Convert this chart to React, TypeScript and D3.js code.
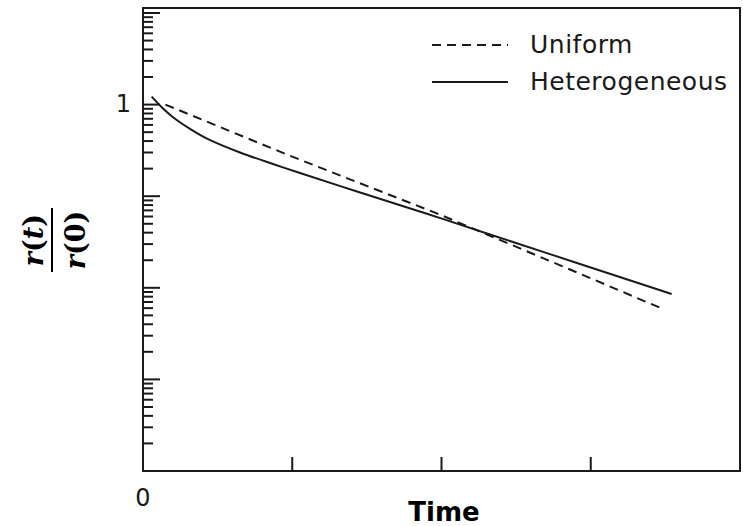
import * as d3 from "d3";

// Uniform (dashed) and heterogeneous (solid) decay
const uniformT = [0.15, 1.0, 2.0, 3.0, 3.47];
const uniformR = [1.0, 0.27, 0.062, 0.0127, 0.006];

const heteroT = [0.058, 0.134, 0.201, 0.315, 0.429, 0.65, 0.871, 1.052, 1.434, 1.876, 2.325, 2.928, 3.542];
const heteroR = [1.22, 0.906, 0.7285, 0.544, 0.4254, 0.3, 0.2246, 0.1792, 0.1125, 0.0664, 0.0382, 0.01819, 0.00855];

const xTicks = [1, 2, 3];
const legendItems = ["Uniform", "Heterogeneous"];

const W = 743;
const H = 526;
const box = { left: 143, right: 740, top: 8, bottom: 471 };
const ink = "#1a1a1a";
const sans = "'DejaVu Sans', sans-serif";

export default function App() {
  const x = d3.scaleLinear().domain([0, 4]).range([box.left, box.right]);
  const y = d3.scaleLog().domain([1e-4, 10]).range([box.bottom, 13]);

  const line = d3
    .line<[number, number]>()
    .x((d) => x(d[0]))
    .y((d) => y(d[1]));

  const uniformPath = line.curve(d3.curveLinear)(uniformT.map((t, i) => [t, uniformR[i]]));
  const heteroPath = line.curve(d3.curveCatmullRom.alpha(0.5))(heteroT.map((t, i) => [t, heteroR[i]]));

  const yTicks = y.ticks();
  const isMajor = (v: number) => Math.abs(Math.log10(v) - Math.round(Math.log10(v))) < 1e-6;

  return (
    <svg width={W} height={H} style={{ position: "absolute", left: 0, top: 0 }}>
      <rect width={W} height={H} fill="white" />

      {/* frame */}
      <rect
        x={box.left}
        y={box.top}
        width={box.right - box.left}
        height={box.bottom - box.top}
        fill="none"
        stroke={ink}
        strokeWidth={2}
      />

      {/* y ticks (log, inward) */}
      {yTicks.map((v, i) => (
        <line
          key={i}
          x1={box.left}
          x2={box.left + (isMajor(v) ? 17 : 10)}
          y1={y(v)}
          y2={y(v)}
          stroke={ink}
          strokeWidth={2}
        />
      ))}
      <text x={131} y={112} fontFamily={sans} fontSize={24} textAnchor="end" fill={ink}>
        1
      </text>

      {/* x ticks (inward) */}
      {xTicks.map((t) => (
        <line key={t} x1={x(t)} x2={x(t)} y1={box.bottom} y2={box.bottom - 14} stroke={ink} strokeWidth={2} />
      ))}
      <text x={x(0)} y={506} fontFamily={sans} fontSize={24} textAnchor="middle" fill={ink}>
        0
      </text>
      <text x={444} y={521} fontFamily={sans} fontSize={26} fontWeight="bold" textAnchor="middle" fill="#000">
        Time
      </text>

      {/* y label: r(t) / r(0) */}
      <g transform="translate(52,240) rotate(-90)" fontFamily="'DejaVu Serif', serif" fontSize={27} fontWeight="bold" fill="#000">
        <text x={0} y={-9} textAnchor="middle">
          <tspan fontStyle="italic">r</tspan>(<tspan fontStyle="italic">t</tspan>)
        </text>
        <line x1={-32} x2={32} y1={0} y2={0} stroke="#000" strokeWidth={2} />
        <text x={0} y={33} textAnchor="middle">
          <tspan fontStyle="italic">r</tspan>(0)
        </text>
      </g>

      {/* curves */}
      <path d={uniformPath ?? ""} fill="none" stroke={ink} strokeWidth={2} strokeDasharray="9,6" />
      <path d={heteroPath ?? ""} fill="none" stroke={ink} strokeWidth={2} />

      {/* legend */}
      {legendItems.map((name, i) => (
        <g key={name} transform={`translate(0,${45 + i * 37})`}>
          <line
            x1={432}
            x2={508}
            y1={0}
            y2={0}
            stroke={ink}
            strokeWidth={2}
            strokeDasharray={i === 0 ? "9,6" : undefined}
          />
          <text x={530} y={8} fontFamily={sans} fontSize={25} letterSpacing={0.5} fill={ink}>
            {name}
          </text>
        </g>
      ))}
    </svg>
  );
}
